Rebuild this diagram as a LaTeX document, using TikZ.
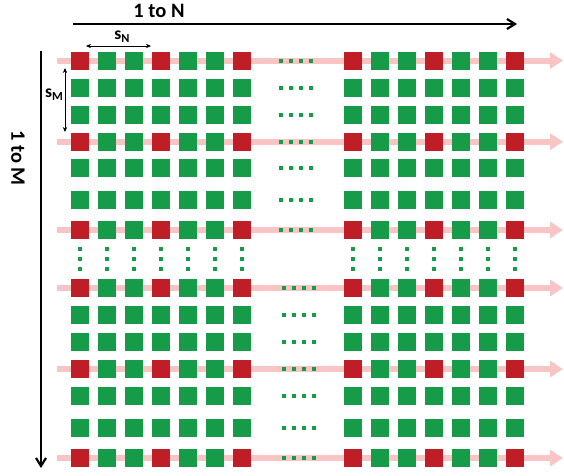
\documentclass[tikz,border=0pt]{standalone}
\usepackage{fontspec}
\setmainfont{Carlito}
\usetikzlibrary{calc,arrows.meta}

\definecolor{cellgreen}{RGB}{22,155,72}
\definecolor{cellred}{RGB}{192,30,38}
\definecolor{lanepink}{RGB}{248,196,196}

\newcommand{\pitchlabel}[1]{s\raisebox{-2.6pt}{\fontsize{10.5}{12}\selectfont #1}}

\tikzset{
	cell/.style={rectangle, inner sep=0pt, minimum size=0.54cm},
	gapdot/.style={rectangle, inner sep=0pt, minimum size=0.12cm, fill=cellgreen},
	lane/.style={draw=lanepink, line width=0.18cm, -{Triangle[length=0.39cm,width=0.48cm]}},
	axis/.style={line width=0.065cm, -{Straight Barb[length=0.24cm,width=0.3cm]}},
	pitch/.style={line width=0.03cm, {Stealth[length=0.15cm,width=0.13cm]}-{Stealth[length=0.15cm,width=0.13cm]}},
	bigtext/.style={font=\fontsize{17.5}{20}\selectfont\bfseries, inner sep=0pt},
	smalltext/.style={font=\fontsize{15}{17}\selectfont\bfseries, inner sep=0pt}
}

\begin{document}
\begin{tikzpicture}[x=0.03cm, y=-0.03cm]
	\useasboundingbox (0, 0) rectangle (564, 475);

	% lanes through the red rows
	\foreach \y [count=\i] in {60.5, 141.7, 230, 288, 369, 458} {
		\coordinate (lane\i-w) at (57, \y);
		\coordinate (lane\i-e) at (563, \y);
		\draw[lane] (lane\i-w) -- (lane\i-e);
	}

	% cells
	\foreach \y/\ry [count=\r] in {60.5/1, 88/0, 114.7/0, 141.7/1, 168/0, 200/0, 230/1,
			288/1, 315/0, 342/0, 369/1, 396/0, 428/0, 458/1} {
		\foreach \x/\rx [count=\c] in {80/1, 107/0, 134/0, 161/1, 188/0, 215/0, 242/1,
				353/1, 380/0, 407/0, 434/1, 461/0, 488/0, 515/1} {
			\pgfmathtruncatemacro\isred{\ry*\rx}
			\ifnum\isred=1 \def\cellcol{cellred}\else\def\cellcol{cellgreen}\fi
			\node[cell, fill=\cellcol] (c-\r-\c) at (\x, \y) {};
		}
	}

	% dots between the two column groups
	\foreach \y [count=\r] in {60.5, 88, 114.7, 141.7, 168, 200, 230} {
		\foreach \k in {0, 1, 2, 3} {
			\node[gapdot] (hd-\r-\k) at ($(281, \y) + (10*\k, 0)$) {};
		}
	}
	\foreach \y [count=\r] in {288, 315, 342, 369, 396, 428, 458} {
		\foreach \k in {0, 1, 2, 3} {
			\node[gapdot] (hdb-\r-\k) at ($(284, \y) + (10*\k, 0)$) {};
		}
	}

	% dots between the two row blocks
	\foreach \x [count=\c] in {80, 107, 134, 161, 188, 215, 242, 353, 380, 407, 434, 461, 488, 515} {
		\foreach \y [count=\k] in {249, 259, 269} {
			\node[gapdot] (vd-\c-\k) at (\x, \y) {};
		}
	}

	% axes
	\coordinate (ntail) at (73, 24);
	\coordinate (nhead) at (517, 24);
	\draw[axis] (ntail) -- (nhead);
	\node[bigtext] (ntext) at (159, 11) {1 to N};

	\coordinate (mtail) at (41, 51);
	\coordinate (mhead) at (41, 468);
	\draw[axis] (mtail) -- (mhead);
	\node[bigtext, rotate=-90] (mtext) at (18, 158) {1 to M};

	% pitch marks
	\coordinate (sn-w) at (86, 46);
	\coordinate (sn-e) at (151, 46);
	\draw[pitch] (sn-w) -- (sn-e);
	\node[smalltext] (sntext) at (122, 37) {\pitchlabel{N}};

	\coordinate (sm-n) at (65, 68);
	\coordinate (sm-s) at (65, 132);
	\draw[pitch] (sm-n) -- (sm-s);
	\node[smalltext] (smtext) at (54, 95) {\pitchlabel{M}};
\end{tikzpicture}
\end{document}
